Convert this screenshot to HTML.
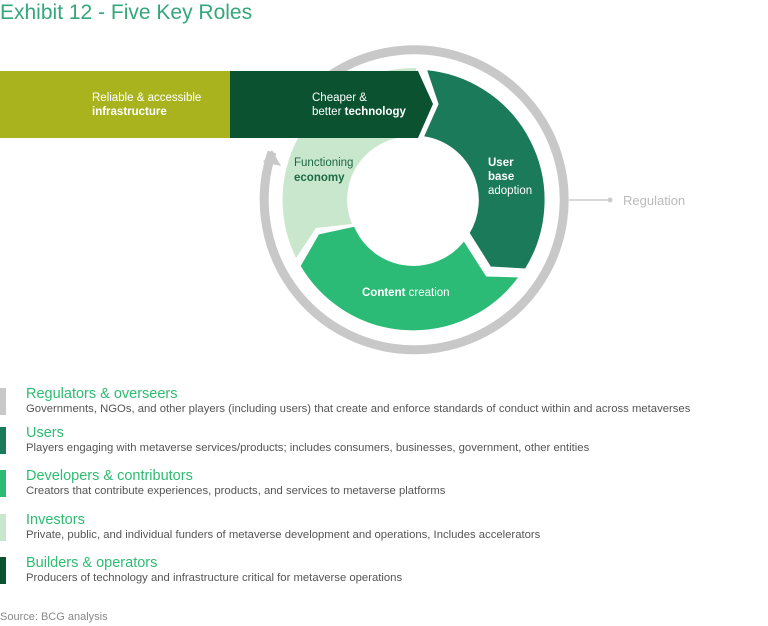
<!DOCTYPE html>
<html><head><meta charset="utf-8"><style>
body{margin:0;width:768px;height:626px;background:#fff;font-family:"Liberation Sans",sans-serif;position:relative;overflow:hidden}
.t{position:absolute;left:0;top:1px;font-size:21px;color:#35a77a;white-space:nowrap}
.lg{position:absolute;left:0;width:760px}
.lg .b{position:absolute;left:0;top:2px;width:6px;height:27px}
.lg .h{position:absolute;left:26px;top:0;font-size:14.5px;color:#2ebb72;white-space:nowrap}
.lg .d{position:absolute;left:26px;top:17px;font-size:11.3px;color:#555;white-space:nowrap}
.src{position:absolute;left:0;top:611px;font-size:11px;color:#888}
svg{position:absolute;left:0;top:0}
</style></head><body>
<div class="t">Exhibit 12 - Five Key Roles</div>
<svg width="768" height="380" viewBox="0 0 768 380" font-family="Liberation Sans, sans-serif">
<path d="M328 77 A150 150 0 1 1 272 152" fill="none" stroke="#c8c8c8" stroke-width="9"/>
<polygon points="263,162 272,150 281,166" fill="#c8c8c8"/>
<line x1="569" y1="200" x2="610" y2="200" stroke="#ccc" stroke-width="1.5"/>
<circle cx="610" cy="200" r="2.5" fill="#ccc"/>
<text x="623" y="205" font-size="13" fill="#bbb">Regulation</text>
<path d="M296 258 L316 228 L352 224 A63 63 0 0 1 416 137 L416 68 A132 132 0 0 0 296 258 Z" fill="#c9e7cd"/>
<path d="M425 68.5 L437 104 L422 137.5 A63 63 0 0 1 468 233 L490 268 L526 270 A132 132 0 0 0 425 68.5 Z" fill="#1b7a5a" stroke="#fff" stroke-width="3"/>
<path d="M521 276 L487 275 L464 239 A63 63 0 0 1 355 225 L318 233 L299 266 A132 132 0 0 0 521 276 Z" fill="#2bbb76" stroke="#fff" stroke-width="3"/>
<circle cx="414" cy="200" r="63" fill="#fff"/>
<rect x="0" y="71" width="231" height="67" fill="#a8b31e"/>
<polygon points="230,71 418,71 433,104 418,138 230,138" fill="#0a5230"/>
<text x="92" y="101" font-size="11.5" fill="#fff">Reliable &amp; accessible</text>
<text x="92" y="115" font-size="11.5" fill="#fff" font-weight="bold">infrastructure</text>
<text x="312" y="101" font-size="11.5" fill="#fff">Cheaper &amp;</text>
<text x="312" y="115" font-size="11.5" fill="#fff">better <tspan font-weight="bold">technology</tspan></text>
<text x="294" y="166" font-size="11.5" fill="#1b6a45">Functioning</text>
<text x="294" y="181" font-size="11.5" fill="#1b6a45" font-weight="bold">economy</text>
<text x="488" y="166" font-size="11.5" fill="#fff" font-weight="bold">User</text>
<text x="488" y="180" font-size="11.5" fill="#fff" font-weight="bold">base</text>
<text x="488" y="194" font-size="11.5" fill="#fff">adoption</text>
<text x="362" y="296" font-size="11.5" fill="#fff"><tspan font-weight="bold">Content</tspan> creation</text>
</svg>
<div class="lg" style="top:386px"><div class="b" style="background:#c8c8c8"></div><div class="h">Regulators &amp; overseers</div><div class="d">Governments, NGOs, and other players (including users) that create and enforce standards of conduct within and across metaverses</div></div>
<div class="lg" style="top:425px"><div class="b" style="background:#1b7a5a"></div><div class="h">Users</div><div class="d">Players engaging with metaverse services/products; includes consumers, businesses, government, other entities</div></div>
<div class="lg" style="top:468px"><div class="b" style="background:#2bbb76"></div><div class="h">Developers &amp; contributors</div><div class="d">Creators that contribute experiences, products, and services to metaverse platforms</div></div>
<div class="lg" style="top:512px"><div class="b" style="background:#c9e7cd"></div><div class="h">Investors</div><div class="d">Private, public, and individual funders of metaverse development and operations, Includes accelerators</div></div>
<div class="lg" style="top:555px"><div class="b" style="background:#0a5230"></div><div class="h">Builders &amp; operators</div><div class="d">Producers of technology and infrastructure critical for metaverse operations</div></div>
<div class="src">Source: BCG analysis</div>
</body></html>
